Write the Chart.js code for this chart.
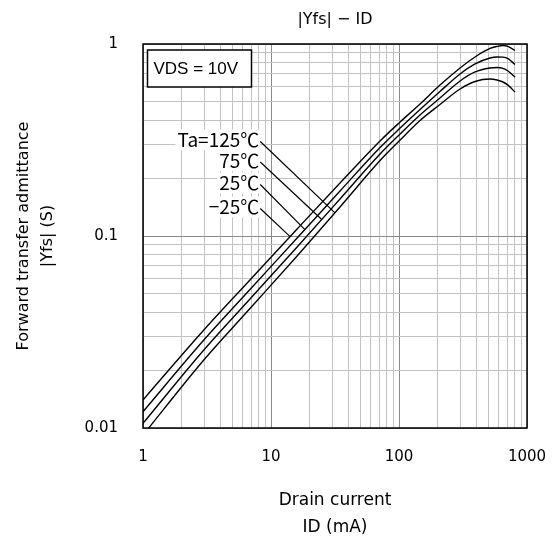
<!DOCTYPE html>
<html>
<head>
<meta charset="utf-8">
<script src="https://cdn.jsdelivr.net/npm/chart.js@4.4.1/dist/chart.umd.min.js"></script>
<style>
  html, body { margin: 0; padding: 0; background: #fff; }
</style>
</head>
<body>
<canvas id="c" width="553" height="538"></canvas>
<script>
const idValues = [1, 2.94, 6.85, 16.0, 34.6, 71.1, 102, 146, 209, 300, 393, 514, 583, 649, 710, 806];
const yfsM25 = [0.0140, 0.0320, 0.0590, 0.1088, 0.1888, 0.3126, 0.3924, 0.487, 0.611, 0.750, 0.856, 0.948, 0.971, 0.982, 0.971, 0.925];
const yfs25  = [0.01216, 0.02838, 0.05265, 0.0976, 0.1715, 0.289, 0.365, 0.456, 0.566, 0.698, 0.787, 0.845, 0.856, 0.854, 0.840, 0.782];
const yfs75  = [0.01057, 0.02518, 0.0470, 0.0877, 0.1559, 0.2674, 0.340, 0.427, 0.523, 0.642, 0.715, 0.750, 0.755, 0.746, 0.723, 0.673];
const yfs125 = [0.00918, 0.02234, 0.0419, 0.0787, 0.1416, 0.2473, 0.316, 0.3995, 0.484, 0.583, 0.638, 0.657, 0.649, 0.634, 0.611, 0.562];

// Ejes
const xDecades = [1, 10, 100, 1000];
const yDecades = [0.01, 0.1, 1];
const xTickLabels = ['1', '10', '100', '1000'];
const yTickLabels = ['0.01', '0.1', '1'];
const mantissas = [1, 2, 3, 4, 5, 6, 7, 8, 9];

// Textos
const chartTitle = '|Yfs| \u2212 ID';
const labelTexts = ['Ta=125\u2103', '75\u2103', '25\u2103', '\u221225\u2103'];
const labelX = 8.1;
const labelY = [0.3162, 0.2473, 0.1888, 0.1416];
const leaderEndX = [31.6, 24.9, 18.4, 14.1];
const leaderEndY = [0.132, 0.1219, 0.108, 0.0993];
const conditionText = 'VDS = 10V';

function logTicks(decades) {
  const out = [];
  decades.forEach((d, i) => {
    if (i === decades.length - 1) { out.push(d); return; }
    mantissas.forEach(m => out.push(+(m * d).toPrecision(3)));
  });
  return out;
}

const toPoints = (ys) => idValues.map((x, i) => ({ x: x, y: ys[i] }));

const lineStyle = {
  borderColor: '#000',
  borderWidth: 1.4,
  pointRadius: 0,
  fill: false,
  cubicInterpolationMode: 'monotone'
};

const annotate = {
  id: 'annotate',
  afterDatasetsDraw(chart) {
    const { ctx, chartArea: a, scales: { x, y } } = chart;
    ctx.save();

    // Titulo centrado sobre el area del grafico
    ctx.fillStyle = '#000';
    ctx.font = '16px "DejaVu Sans", sans-serif';
    ctx.textAlign = 'center';
    ctx.textBaseline = 'middle';
    ctx.fillText(chartTitle, (a.left + a.right) / 2, 20);

    // Caja de condicion
    const bx = a.left + 4.5, by = a.top + 6, bw = 104, bh = 37;
    ctx.fillStyle = '#fff';
    ctx.fillRect(bx, by, bw, bh);
    ctx.strokeStyle = '#000';
    ctx.lineWidth = 1.5;
    ctx.strokeRect(bx, by, bw, bh);
    ctx.fillStyle = '#000';
    ctx.font = '17px "Liberation Sans", Arial, sans-serif';
    ctx.textAlign = 'left';
    ctx.fillText(conditionText, bx + 6, by + bh / 2 + 1);

    // Etiquetas Ta
    ctx.font = '19px "Noto Sans CJK JP", sans-serif';
    ctx.textAlign = 'right';
    labelTexts.forEach((t, i) => {
      const px = x.getPixelForValue(labelX);
      const py = y.getPixelForValue(labelY[i]);
      const w = ctx.measureText(t).width;
      ctx.fillStyle = '#fff';
      ctx.fillRect(px - w - 2, py - 10.5, w + 3, 21);
      ctx.fillStyle = '#000';
      ctx.fillText(t, px, py);
      ctx.beginPath();
      ctx.lineWidth = 1.2;
      ctx.moveTo(px + 1, py + 1.5);
      ctx.lineTo(x.getPixelForValue(leaderEndX[i]), y.getPixelForValue(leaderEndY[i]));
      ctx.stroke();
    });

    // Marco del area
    ctx.strokeStyle = '#000';
    ctx.lineWidth = 1.5;
    ctx.strokeRect(a.left, a.top, a.right - a.left, a.bottom - a.top);
    ctx.restore();
  }
};

const gridColor = (decades) => (c) => decades.includes(c.tick.value) ? '#8a8a8a' : '#c2c2c2';

new Chart(document.getElementById('c'), {
  type: 'line',
  data: {
    datasets: [
      { ...lineStyle, label: '-25', data: toPoints(yfsM25) },
      { ...lineStyle, label: '25', data: toPoints(yfs25) },
      { ...lineStyle, label: '75', data: toPoints(yfs75) },
      { ...lineStyle, label: '125', data: toPoints(yfs125) }
    ]
  },
  options: {
    responsive: false,
    animation: false,
    devicePixelRatio: 1,
    layout: { padding: { left: 0, right: 26, top: 44, bottom: 0 } },
    plugins: {
      legend: { display: false },
      tooltip: { enabled: false },
      title: { display: false }
    },
    scales: {
      x: {
        type: 'logarithmic',
        min: 1,
        max: 1000,
        afterBuildTicks: (s) => { s.ticks = logTicks(xDecades).map(v => ({ value: v })); },
        afterFit: (s) => { s.height = 110; s.paddingLeft = 0; s.paddingRight = 0; },
        grid: { color: gridColor(xDecades), lineWidth: 1, drawTicks: false },
        border: { display: false },
        ticks: {
          autoSkip: false,
          maxRotation: 0,
          padding: 20,
          color: '#000',
          font: { family: 'DejaVu Sans', size: 15 },
          callback: (v) => { const i = xDecades.indexOf(v); return i >= 0 ? xTickLabels[i] : ''; }
        },
        title: {
          display: true,
          text: ['Drain current', 'ID (mA)'],
          color: '#000',
          font: { family: 'DejaVu Sans', size: 17, lineHeight: '27px' },
          padding: { top: 0, bottom: -3 }
        }
      },
      y: {
        type: 'logarithmic',
        min: 0.01,
        max: 1,
        afterBuildTicks: (s) => { s.ticks = logTicks(yDecades).map(v => ({ value: v })); },
        afterFit: (s) => { s.width = 143; s.paddingTop = 0; s.paddingBottom = 0; },
        grid: { color: gridColor(yDecades), lineWidth: 1, drawTicks: false },
        border: { display: false },
        ticks: {
          autoSkip: false,
          padding: 25,
          color: '#000',
          font: { family: 'DejaVu Sans', size: 15 },
          callback: (v) => { const i = yDecades.indexOf(v); return i >= 0 ? yTickLabels[i] : ''; }
        },
        title: {
          display: true,
          text: ['Forward transfer admittance', '|Yfs| (S)'],
          color: '#000',
          font: { family: 'DejaVu Sans', size: 16, lineHeight: '24px' },
          padding: { top: 11.5, bottom: 0 }
        }
      }
    }
  },
  plugins: [annotate]
});
</script>
</body>
</html>
